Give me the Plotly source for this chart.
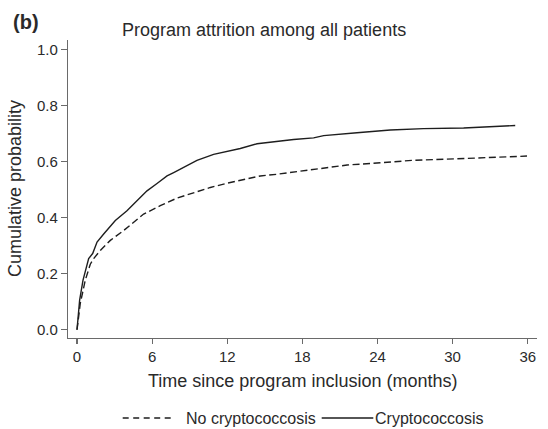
import plotly.graph_objects as go

# Data (months, cumulative probability)
crypto_months = [0, 0.21, 0.48, 0.74, 0.93, 1.25, 1.6, 2.13, 3.06, 3.99, 5.06, 5.59, 6.39, 7.19,
                 7.72, 8.65, 9.58, 10.91, 12.24, 13.04, 14.38, 15.97, 17.3, 18.9, 19.7, 22.36,
                 25.02, 27.68, 30.88, 35.0]
crypto_prob = [0, 0.106, 0.177, 0.224, 0.254, 0.272, 0.313, 0.342, 0.39, 0.425, 0.472, 0.496,
               0.522, 0.549, 0.561, 0.584, 0.605, 0.626, 0.64, 0.647, 0.664, 0.673, 0.679,
               0.685, 0.693, 0.703, 0.713, 0.718, 0.72, 0.729]

nocrypto_months = [0, 0.26, 0.66, 1.06, 1.33, 1.86, 2.66, 3.72, 5.32, 6.65, 7.99, 9.31, 10.65,
                   11.98, 13.31, 14.64, 15.97, 17.3, 18.9, 21.57, 24.23, 26.88, 29.55, 32.2, 35.94]
nocrypto_prob = [0, 0.094, 0.177, 0.234, 0.254, 0.283, 0.319, 0.354, 0.413, 0.443, 0.47, 0.49,
                 0.508, 0.523, 0.537, 0.549, 0.555, 0.563, 0.573, 0.588, 0.596, 0.605, 0.609,
                 0.614, 0.62]

x_ticks = [0, 6, 12, 18, 24, 30, 36]
y_ticks = [0.0, 0.2, 0.4, 0.6, 0.8, 1.0]
y_tick_labels = ["0.0", "0.2", "0.4", "0.6", "0.8", "1.0"]

series_names = ["No cryptococcosis", "Cryptococcosis"]

FONT = "Liberation Sans, Arial, Helvetica, sans-serif"
TXT = "#2a2a2a"
LINE = "#1e1e1e"
AX = "#6a6a6a"
DASH = "7px,3.5px"

W, H = 548, 429
ML, MR, MT, MB = 68, 11, 40, 91
PW, PH = W - ML - MR, H - MT - MB


def px_x(p):
    return (p - ML) / PW


def px_y(p):
    return (H - MB - p) / PH


fig = go.Figure()
fig.add_trace(go.Scatter(x=nocrypto_months, y=nocrypto_prob, mode="lines",
                         name=series_names[0], showlegend=False,
                         line=dict(color=LINE, width=1.4, dash=DASH)))
fig.add_trace(go.Scatter(x=crypto_months, y=crypto_prob, mode="lines",
                         name=series_names[1], showlegend=False,
                         line=dict(color=LINE, width=1.4)))

# custom legend (keys + labels) placed below the x-axis title
leg_y = px_y(418)
shapes = [
    dict(type="line", xref="paper", yref="paper", x0=px_x(122.7), x1=px_x(175),
         y0=leg_y, y1=leg_y, line=dict(color=LINE, width=1.3, dash="6px,4.5px")),
    dict(type="line", xref="paper", yref="paper", x0=px_x(321.7), x1=px_x(373.3),
         y0=leg_y, y1=leg_y, line=dict(color=LINE, width=1.3)),
]

annotations = [
    dict(text="Program attrition among all patients", xref="paper", yref="paper",
         x=px_x(264.2), y=px_y(30), xanchor="center", yanchor="middle", showarrow=False,
         font=dict(size=18, color=TXT)),
    dict(text="<b>(b)</b>", xref="paper", yref="paper", x=px_x(26.3), xanchor="center",
         y=px_y(22), yanchor="middle", showarrow=False, font=dict(size=20, color=TXT)),
    dict(text="Time since program inclusion (months)", xref="paper", yref="paper",
         x=px_x(302.9), y=px_y(380.7), xanchor="center", yanchor="middle", showarrow=False,
         font=dict(size=18, color=TXT)),
    dict(text="Cumulative probability", xref="paper", yref="paper", textangle=-90,
         x=px_x(15), y=px_y(189), xanchor="center", yanchor="middle", showarrow=False,
         font=dict(size=18, color=TXT)),
    dict(text=series_names[0], xref="paper", yref="paper", x=px_x(184), y=leg_y,
         xanchor="left", yanchor="middle", showarrow=False, font=dict(size=16, color=TXT)),
    dict(text=series_names[1], xref="paper", yref="paper", x=px_x(373), y=leg_y,
         xanchor="left", yanchor="middle", showarrow=False, font=dict(size=16, color=TXT)),
]

fig.update_layout(
    width=W, height=H,
    margin=dict(l=ML, r=MR, t=MT, b=MB),
    paper_bgcolor="white", plot_bgcolor="white",
    font=dict(family=FONT, size=15, color=TXT),
    showlegend=False,
    shapes=shapes,
    annotations=annotations,
    xaxis=dict(range=[-0.72, 36.74], tickvals=x_ticks, ticktext=[str(v) for v in x_ticks],
               showgrid=False, zeroline=False, showline=True, linecolor=AX, linewidth=1.2,
               ticks="outside", ticklen=5, tickcolor=AX, tickwidth=1.2, automargin=False,
               tickfont=dict(size=15, color=TXT)),
    yaxis=dict(range=[-0.0294, 1.0343], tickvals=y_ticks, ticktext=y_tick_labels,
               showgrid=False, zeroline=False, showline=True, linecolor=AX, linewidth=1.2,
               ticks="outside", ticklen=6, tickcolor=AX, tickwidth=1.2, automargin=False,
               tickfont=dict(size=15, color=TXT)),
)

fig.write_html(
    "out.html",
    config={"displayModeBar": False, "staticPlot": True},
    post_script="document.body.style.margin='0';document.body.style.overflow='hidden';",
)
